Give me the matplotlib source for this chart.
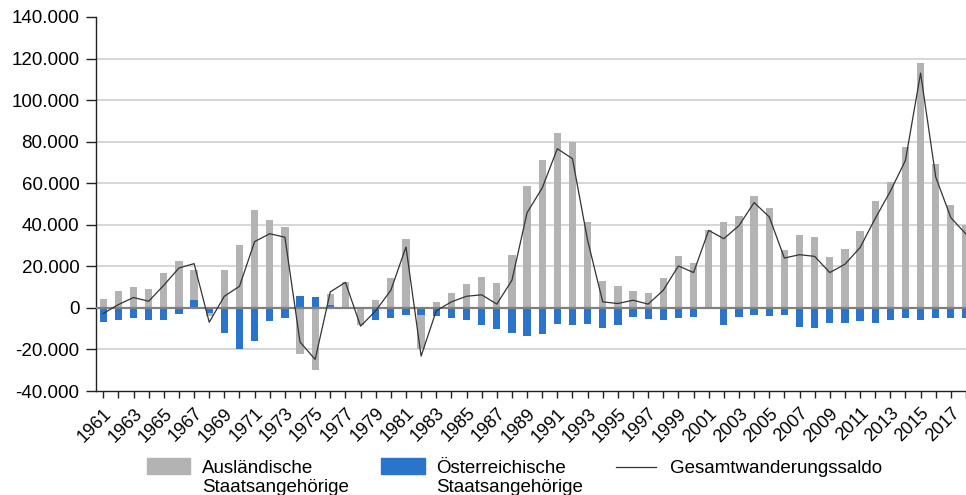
import numpy as np
import matplotlib
matplotlib.use("Agg")
import matplotlib.pyplot as plt
from matplotlib.patches import Rectangle
from matplotlib.lines import Line2D
from matplotlib.ticker import FuncFormatter

plt.rcParams['font.family'] = ['Liberation Sans', 'DejaVu Sans']

years = list(range(1961, 2019))

# Ausländische Staatsangehörige
foreign = [4200, 7900, 9900, 9100, 16700, 22400, 18000, -4000, 18000, 30500,
           47100, 42200, 39000, -22100, -29800, 6600, 12700, -8300, 3700, 14300,
           33000, -20000, 2600, 7400, 11400, 14700, 12200, 25600, 58500, 71300,
           84300, 79700, 41500, 13000, 10600, 8200, 7100, 14300, 25200, 21500,
           37300, 41500, 44200, 54000, 47900, 27700, 34900, 34100, 24400, 28500,
           37000, 51300, 60400, 77600, 118100, 69400, 49500, 39800]

# Österreichische Staatsangehörige
austrian = [-6700, -5900, -5100, -5900, -5900, -3000, 3700, -2700, -12000, -20000,
            -15700, -6400, -5100, 5800, 5400, 1300, -300, -600, -5600, -4800,
            -3500, -3500, -3800, -4800, -5900, -8300, -10400, -12300, -13600, -12800,
            -7900, -8300, -7900, -9900, -8300, -4300, -5500, -5900, -5100, -4300,
            -300, -8300, -4300, -3500, -3800, -3500, -9100, -9600, -7200, -7200,
            -6400, -7200, -5900, -5100, -5600, -5100, -5100, -4800]

# Gesamtwanderungssaldo
total = [-2700, 1600, 5000, 3200, 10900, 19200, 21300, -6900, 5600, 10400,
         31900, 35700, 34000, -16400, -24800, 7700, 12300, -8800, -1400, 8500,
         29300, -23200, -1400, 2900, 5600, 6300, 1800, 13300, 45800, 57700,
         76600, 71800, 32500, 2900, 2100, 3700, 1800, 8500, 20200, 17000,
         37300, 33300, 39600, 50700, 43800, 24000, 25600, 24800, 17000, 21000,
         29000, 43000, 56100, 71000, 113000, 63000, 43400, 35500]

labels = ["Ausländische\nStaatsangehörige", "Österreichische\nStaatsangehörige",
          "Gesamtwanderungssaldo"]

grey = '#b3b3b3'
blue = '#2b74cc'

W, H = 966, 495
fig = plt.figure(figsize=(W / 100, H / 100), dpi=100)
ax = fig.add_axes([96 / W, 1 - 391 / H, 870 / W, 374 / H])

ax.bar(years, foreign, width=0.48, color=grey, zorder=2)
ax.bar(years, austrian, width=0.48, color=blue, zorder=2.5)
ax.axhline(0, color='#808080', lw=1.6, zorder=3)
ax.plot(years, total, color='#333333', lw=0.9, zorder=4)

ax.set_xlim(1960.52, 2017.8)
ax.set_ylim(-40000, 140000)
ax.set_yticks(range(-40000, 140001, 20000))
for v in range(-20000, 120001, 20000):
    if v != 0:
        ax.axhline(v, color='#cccccc', lw=1.1, zorder=1)

ax.yaxis.set_major_formatter(FuncFormatter(lambda v, p: f"{int(v):,}".replace(",", ".")))
ax.set_xticks(years)
ax.set_xticklabels([str(y) if y % 2 == 1 else "" for y in years],
                   rotation=45, ha='right', rotation_mode='anchor')

for s in ['top', 'right']:
    ax.spines[s].set_visible(False)
for s in ['left', 'bottom']:
    ax.spines[s].set_color('#222222')
    ax.spines[s].set_linewidth(1.0)
ax.tick_params(axis='y', length=7, width=1, pad=5, labelsize=13.5, colors='#222222', labelcolor='black')
ax.tick_params(axis='x', length=5, width=1, pad=5, labelsize=13, colors='#222222', labelcolor='black')

# legend, built by hand
fs = 13.5
fig.patches.append(Rectangle((147 / W, 1 - 474 / H), 43 / W, 16.5 / H,
                             transform=fig.transFigure, color=grey))
fig.patches.append(Rectangle((381 / W, 1 - 474 / H), 44 / W, 16.5 / H,
                             transform=fig.transFigure, color=blue))
fig.lines.append(Line2D([616 / W, 656 / W], [1 - 467 / H, 1 - 467 / H],
                        transform=fig.transFigure, color='#333333', lw=0.9))
for x, lab in [(202, labels[0]), (436, labels[1]), (670, labels[2])]:
    for i, line in enumerate(lab.split("\n")):
        fig.text(x / W, 1 - (473 + 19 * i) / H, line, fontsize=fs, va='baseline')

fig.savefig("out.png", dpi=100)
